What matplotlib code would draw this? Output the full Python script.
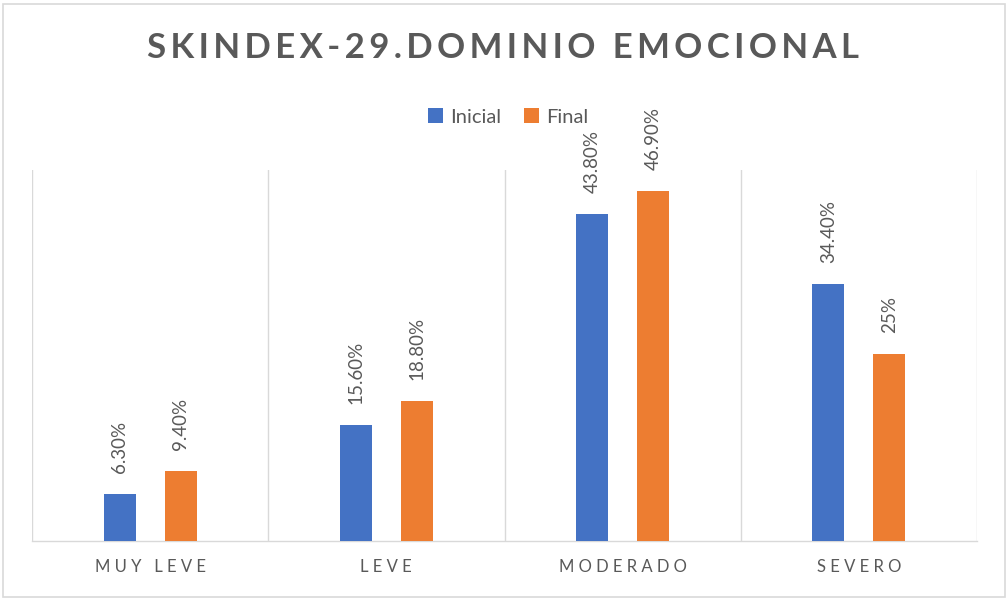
import matplotlib
matplotlib.use("Agg")
import matplotlib.pyplot as plt
from matplotlib.patches import Rectangle
import numpy as np

categories = ["MUY LEVE", "LEVE", "MODERADO", "SEVERO"]
inicial = [6.3, 15.6, 43.8, 34.4]
final = [9.4, 18.8, 46.9, 25.0]
inicial_labels = ["6.30%", "15.60%", "43.80%", "34.40%"]
final_labels = ["9.40%", "18.80%", "46.90%", "25%"]
title = "SKINDEX-29.DOMINIO EMOCIONAL"

BLUE = "#4472C4"
ORANGE = "#ED7D31"
GRAY = "#595959"
GRID = "#D9D9D9"
FAM = ["Lato", "DejaVu Sans"]

def spaced(s, sep="\u2009"):
    return sep.join(list(s))

fig = plt.figure(figsize=(10.07, 5.99), dpi=100)
fig.patch.set_facecolor("white")
fig.patches.append(Rectangle((2.5/1007, 2.5/599), 1002/1007, 593/599, transform=fig.transFigure,
                             fill=False, edgecolor=GRID, linewidth=1.2))

ax = fig.add_axes([32/1007, 58/599, 945/1007, 371/599])
x = np.arange(len(categories))
w = 0.136
off = 0.129
ax.bar(x - off, inicial, w, color=BLUE, label="Inicial", zorder=3)
ax.bar(x + off, final, w, color=ORANGE, label="Final", zorder=3)

for xi, v, lab in zip(x - off, inicial, inicial_labels):
    ax.text(xi, v + 2.8, lab, rotation=90, ha="center", va="bottom", color=GRAY,
            fontsize=13.5, family=FAM)
for xi, v, lab in zip(x + off, final, final_labels):
    ax.text(xi, v + 2.8, lab, rotation=90, ha="center", va="bottom", color=GRAY,
            fontsize=13.5, family=FAM)

ax.set_xlim(-0.5, len(categories) - 0.5)
ax.set_ylim(0, 49.7)
ax.set_xticks(x)
ax.set_xticklabels([spaced(c, " ") for c in categories], fontsize=12, color=GRAY, family=FAM)
ax.tick_params(axis="x", length=0, pad=13)
ax.set_yticks([])
ax.set_xticks(np.arange(-0.5, len(categories), 1.0), minor=True)
ax.tick_params(axis="x", which="minor", length=0)
ax.grid(True, axis="x", which="minor", color=GRID, linewidth=1.0, zorder=0)
for s in ["top", "right", "left"]:
    ax.spines[s].set_visible(False)
ax.spines["bottom"].set_color(GRID)
ax.spines["bottom"].set_linewidth(1.0)

fig.text(503/1007, 1 - 48.5/599, spaced(title), ha="center", va="center", fontsize=25,
         fontweight="bold", color=GRAY, family=FAM)

leg = fig.legend(loc="center", bbox_to_anchor=(508/1007, 1 - 117/599), ncol=2, frameon=False,
                 prop={"family": FAM, "size": 14.5}, handlelength=0.75, handleheight=0.75,
                 handletextpad=0.35, columnspacing=1.1, labelcolor=GRAY)

fig.savefig("out.png", dpi=100, facecolor="white")
